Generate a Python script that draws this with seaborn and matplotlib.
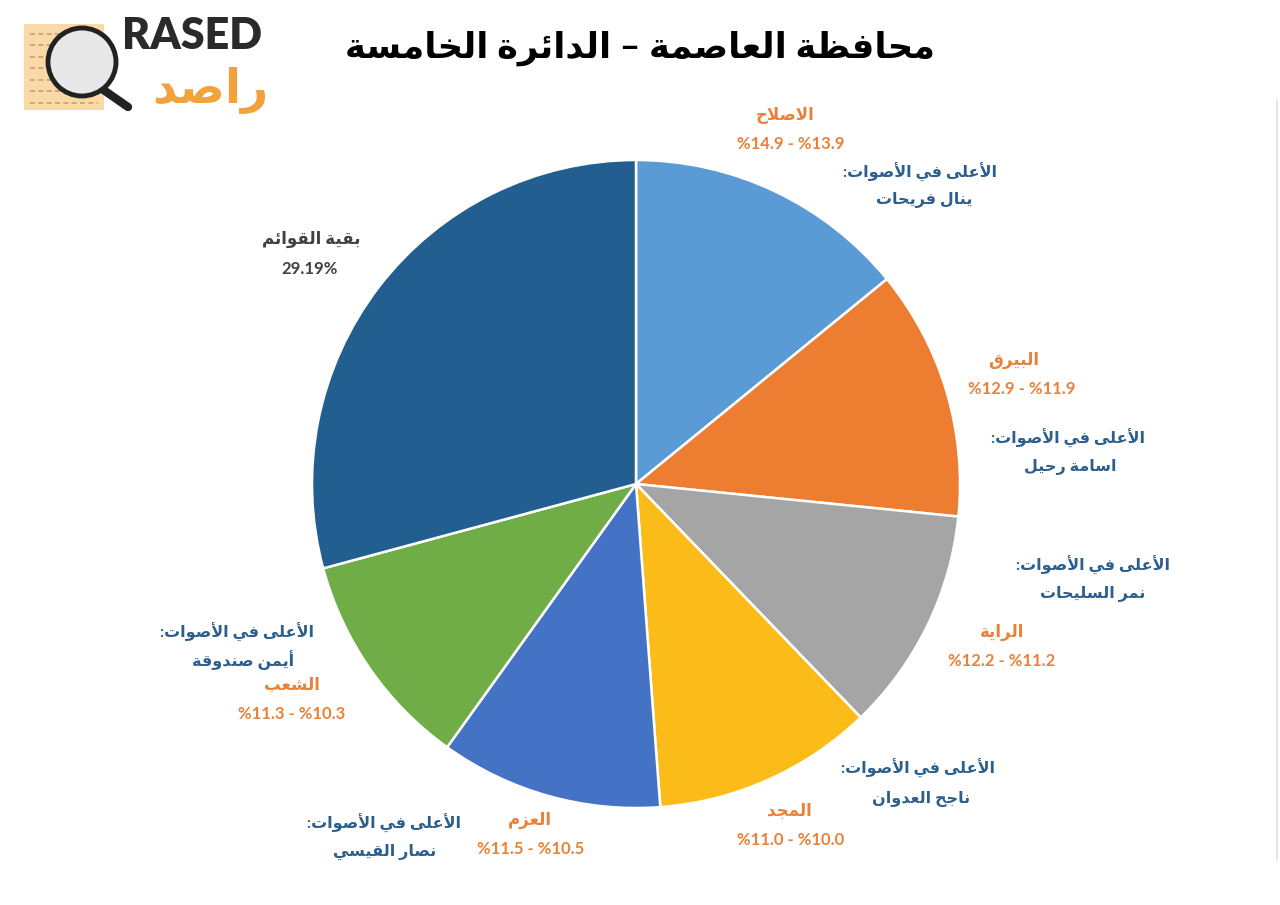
import matplotlib
matplotlib.use("Agg")
import matplotlib.pyplot as plt
import seaborn as sns
from matplotlib.patches import Rectangle, Circle

# ---- data ----
parties = ["الاصلاح", "البيرق", "الراية", "المجد", "العزم", "الشعب", "بقية القوائم"]
shares = [14.1, 12.5, 11.2, 11.0, 11.1, 10.9, 29.19]
ranges = ["%14.9 - %13.9", "%12.9 - %11.9", "%12.2 - %11.2", "%11.0 - %10.0",
          "%11.5 - %10.5", "%11.3 - %10.3", "29.19%"]
top_voters = ["ينال فريحات", "اسامة رحيل", "نمر السليحات", "ناجح العدوان",
              "نصار القيسي", "أيمن صندوقة", None]
colors = ["#5B9BD5", "#ED7D31", "#A5A5A5", "#FBBC1A", "#4472C4", "#70AD47", "#235E91"]
title = "محافظة العاصمة – الدائرة الخامسة"
top_label = "الأعلى في الأصوات:"

# ---- tiny arabic shaper (no bidi libs available) ----
FOUR = {'ئ': 0xFE89, 'ب': 0xFE8F, 'ت': 0xFE95, 'ث': 0xFE99, 'ج': 0xFE9D, 'ح': 0xFEA1,
        'خ': 0xFEA5, 'س': 0xFEB1, 'ش': 0xFEB5, 'ص': 0xFEB9, 'ض': 0xFEBD, 'ط': 0xFEC1,
        'ظ': 0xFEC5, 'ع': 0xFEC9, 'غ': 0xFECD, 'ف': 0xFED1, 'ق': 0xFED5, 'ك': 0xFED9,
        'ل': 0xFEDD, 'م': 0xFEE1, 'ن': 0xFEE5, 'ه': 0xFEE9, 'ي': 0xFEF1}
TWO = {'آ': 0xFE81, 'أ': 0xFE83, 'ؤ': 0xFE85, 'إ': 0xFE87, 'ا': 0xFE8D, 'ة': 0xFE93,
       'د': 0xFEA9, 'ذ': 0xFEAB, 'ر': 0xFEAD, 'ز': 0xFEAF, 'و': 0xFEED, 'ى': 0xFEEF}
LAM_ALEF = {'آ': 0xFEF5, 'أ': 0xFEF7, 'إ': 0xFEF9, 'ا': 0xFEFB}


def ar(text):
    res = []
    prev = False
    i = 0
    while i < len(text):
        c = text[i]
        nxt = text[i + 1] if i + 1 < len(text) else ''
        if c == 'ل' and nxt in LAM_ALEF:
            res.append(chr(LAM_ALEF[nxt] + (1 if prev else 0)))
            prev = False
            i += 2
            continue
        joins_next = nxt in FOUR or nxt in TWO
        if c in FOUR:
            b = FOUR[c]
            if prev and joins_next:
                res.append(chr(b + 3))
            elif prev:
                res.append(chr(b + 1))
            elif joins_next:
                res.append(chr(b + 2))
            else:
                res.append(chr(b))
            prev = joins_next
        elif c in TWO:
            res.append(chr(TWO[c] + (1 if prev else 0)))
            prev = False
        else:
            res.append(c)
            prev = False
        i += 1
    return ''.join(reversed(res))


sns.set_style("white")
plt.rcParams['font.family'] = ['DejaVu Sans']
FAM = ['Lato', 'DejaVu Sans']

W, H = 1280, 905
fig = plt.figure(figsize=(12.8, 9.05), dpi=100)
ax = fig.add_axes([0, 0, 1, 1])
ax.set_xlim(0, W)
ax.set_ylim(H, 0)
ax.set_aspect('equal')
ax.axis('off')

# pie in pixel coordinates (y axis inverted -> counterclock flips)
ax.pie(shares, colors=colors, startangle=-90, counterclock=True,
       center=(636, 484), radius=324, frame=True,
       wedgeprops=dict(edgecolor='white', linewidth=1.8))
ax.set_xlim(0, W)
ax.set_ylim(H, 0)
ax.axis('off')

ORANGE = "#E8823A"
BLUE = "#2C5F8E"
GRAY = "#404040"
fs_num = 12
fs_ar = 11.5

# label anchors: (party, range, voter-title, voter-name)
spots = [
    [(785, 116), (791, 144), (920, 172), (924, 200)],
    [(1014, 360), (1022, 389), (1068, 438), (1070, 467)],
    [(1002, 632), (1002, 661), (1093, 565), (1093, 594)],
    [(789, 811), (791, 840), (918, 768), (921, 799)],
    [(530, 820), (531, 849), (384, 823), (385, 852)],
    [(292, 685), (292, 714), (237, 632), (243, 660)],
    [(311, 239), (310, 269), None, None],
]

for i, p in enumerate(parties):
    sp = spots[i]
    col = ORANGE if top_voters[i] else GRAY
    ax.text(*sp[0], ar(p), ha='center', va='center', fontsize=fs_ar + 0.5,
            fontweight='bold', color=col, family=FAM)
    ax.text(*sp[1], ranges[i], ha='center', va='center', fontsize=fs_num,
            fontweight='bold', color=col, family=FAM)
    if top_voters[i]:
        ax.text(*sp[2], ar(top_label), ha='center', va='center', fontsize=fs_ar,
                fontweight='bold', color=BLUE, family=FAM)
        ax.text(*sp[3], ar(top_voters[i]), ha='center', va='center', fontsize=fs_ar,
                fontweight='bold', color=BLUE, family=FAM)

# title
ax.text(640, 48, ar(title), ha='center', va='center', fontsize=25.5,
        fontweight='bold', color='black', family=FAM)

# logo
ax.add_patch(Rectangle((24, 24), 80, 86, facecolor="#F9D9A8", edgecolor='none', zorder=3))
for k in range(7):
    ax.plot([30, 98], [34 + k * 11.5, 34 + k * 11.5], color="#C8A070", lw=1.2,
            ls=(0, (3, 2)), zorder=3)
ax.plot([95, 128], [84, 107], color="#222222", lw=6, solid_capstyle='round', zorder=4)
ax.add_patch(Circle((82, 62), 34, facecolor="#E8E8E8", edgecolor="#222222", lw=3.5, zorder=5))
ax.text(192, 36, "RASED", ha='center', va='center', fontsize=31, fontweight='heavy',
        color="#2A2A2A", family=FAM, zorder=5)
ax.text(210, 90, ar("راصد"), ha='center', va='center', fontsize=34, fontweight='bold',
        color="#F2A23A", family=FAM, zorder=5)

# faint right border
ax.plot([1277, 1277], [100, 860], color="#E6E6E6", lw=1.5)

fig.savefig("out.png", dpi=100)
